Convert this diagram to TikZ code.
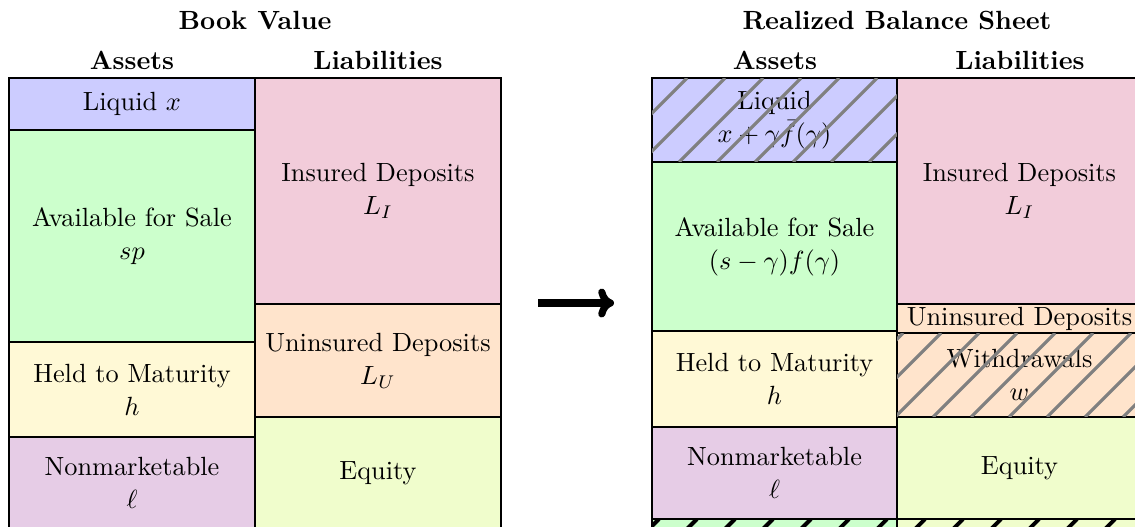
\documentclass[tikz,border=0pt]{standalone}
\usetikzlibrary{arrows.meta}

% fill colours of the balance-sheet items
\definecolor{liqc}{RGB}{204,204,255}
\definecolor{afsc}{RGB}{204,255,204}
\definecolor{htmc}{RGB}{255,249,214}
\definecolor{nonc}{RGB}{230,204,230}
\definecolor{insc}{RGB}{242,204,218}
\definecolor{unic}{RGB}{255,228,204}
\definecolor{eqc}{RGB}{240,253,204}
\definecolor{hatchc}{RGB}{128,128,128}

\tikzset{
  box/.style={draw=black, line width=0.5pt, inner sep=0pt, align=center,
              font=\fontsize{10}{12.5}\selectfont},
  head/.style={font=\bfseries, inner sep=0pt},
  grayhatch/.style={draw=hatchc, line width=1.2pt},
  blackhatch/.style={draw=black, line width=1.5pt},
  bigarrow/.style={line width=2.7pt, -{Computer Modern Rightarrow[length=6pt,width=11pt]}},
}

% \blk{name}{x1}{y1}{x2}{y2}{fill}{text}: one item of a balance sheet
\newcommand\blk[7]{%
  \pgfmathsetmacro\bw{(#4-#2)*0.38}%
  \pgfmathsetmacro\bh{(#5-#3)*0.38}%
  \node[box, fill=#6, minimum width=\bw pt, minimum height=\bh pt]
    (#1) at ({(#2+#4)/2},{(#3+#5)/2}) {#7};%
}

% \hatch{x1}{y1}{x2}{y2}{style}{phase}: diagonal lines over an item
\newcommand\hatch[6]{%
  \begin{scope}
    \clip (#1,#2) rectangle (#3,#4);
    \foreach \k in {0,...,22}{
      \pgfmathsetmacro\cc{#6+38*\k}
      \draw[#5] ({\cc-#4},#4) -- ({\cc-#2},#2);
    }
  \end{scope}%
}

\begin{document}
\begin{tikzpicture}[x=0.38pt,y=-0.38pt]
\useasboundingbox (0,0) rectangle (1135,526);
\clip (0,0) rectangle (1135,526);

% headings
\node[head] (bvTitle) at (255,20) {Book Value};
\node[head] (bvA) at (132,60) {Assets};
\node[head] (bvL) at (378,60) {Liabilities};
\node[head] (rbTitle) at (897,20) {Realized Balance Sheet};
\node[head] (rbA) at (775,60) {Assets};
\node[head] (rbL) at (1020,60) {Liabilities};

% book value
\blk{bvLiq}{9}{78}{255}{130}{liqc}{Liquid $x$}
\blk{bvAfs}{9}{130}{255}{342}{afsc}{Available for Sale\\$sp$}
\blk{bvHtm}{9}{342}{255}{437}{htmc}{Held to Maturity\\$h$}
\blk{bvNon}{9}{437}{255}{529}{nonc}{Nonmarketable\\$\ell$}
\blk{bvIns}{255}{78}{501}{304}{insc}{Insured Deposits\\$L_I$}
\blk{bvUni}{255}{304}{501}{417}{unic}{Uninsured Deposits\\$L_U$}
\blk{bvEq}{255}{417}{501}{529}{eqc}{Equity}

% realized balance sheet
\blk{rbLiq}{652}{78}{897}{162}{liqc}{Liquid\\$x+\gamma\bar f(\gamma)$}
\blk{rbAfs}{652}{162}{897}{331}{afsc}{Available for Sale\\$(s-\gamma)f(\gamma)$}
\blk{rbHtm}{652}{331}{897}{427}{htmc}{Held to Maturity\\$h$}
\blk{rbNon}{652}{427}{897}{519}{nonc}{Nonmarketable\\$\ell$}
\blk{rbLossA}{652}{519}{897}{545}{afsc}{}
\blk{rbIns}{897}{78}{1142}{304}{insc}{Insured Deposits\\$L_I$}
\blk{rbUni}{897}{304}{1142}{333}{unic}{Uninsured Deposits}
\blk{rbWd}{897}{333}{1142}{417}{unic}{Withdrawals\\$w$}
\blk{rbEq}{897}{417}{1142}{519}{eqc}{Equity}
\blk{rbLossE}{897}{519}{1142}{545}{eqc}{}

% hatching drawn over the sold and withdrawn parts
\hatch{652}{78}{897}{162}{grayhatch}{727}
\hatch{897}{333}{1142}{417}{grayhatch}{1198}
\hatch{652}{519}{1142}{545}{blackhatch}{1140}
\foreach \n in {rbLiq,rbWd,rbLossA,rbLossE}
  \draw[line width=0.5pt] (\n.north west) rectangle (\n.south east);

% transition arrow
\coordinate (arrS) at (538,303);
\coordinate (arrE) at (614,303);
\draw[bigarrow] (arrS) -- (arrE);
\end{tikzpicture}
\end{document}
